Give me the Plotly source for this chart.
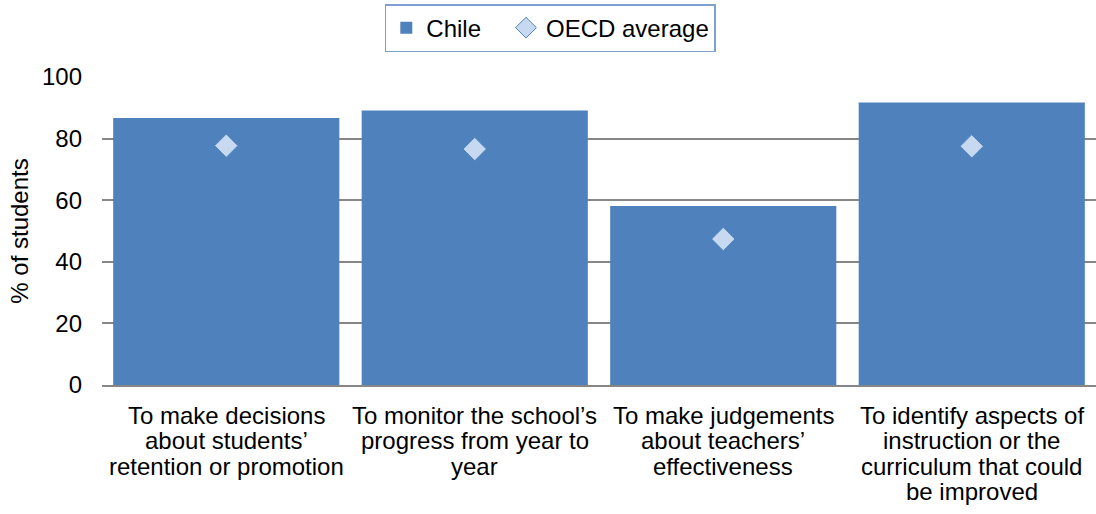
import plotly.graph_objects as go

categories = [
    "To make decisions about students’ retention or promotion",
    "To monitor the school’s progress from year to year",
    "To make judgements about teachers’ effectiveness",
    "To identify aspects of instruction or the curriculum that could be improved",
]
category_lines = [
    ["To make decisions", "about students’", "retention or promotion"],
    ["To monitor the school’s", "progress from year to", "year"],
    ["To make judgements", "about teachers’", "effectiveness"],
    ["To identify aspects of", "instruction or the", "curriculum that could", "be improved"],
]
chile = [86.7, 89.1, 58.1, 91.7]
oecd = [77.7, 76.6, 47.4, 77.5]

FONT = "Liberation Sans, Arial, sans-serif"
FS = 24

fig = go.Figure()
fig.add_trace(go.Bar(
    x=categories, y=chile, name="Chile\u00a0\u00a0\u00a0",
    marker=dict(color="#4F81BD", line=dict(width=0)),
))
fig.add_trace(go.Scatter(
    x=categories, y=oecd, name="OECD average", mode="markers",
    marker=dict(symbol="diamond", size=18, color="#C6D9F1",
                line=dict(width=1, color="#4F81BD")),
))

annotations = []
for cat, lines in zip(categories, category_lines):
    for i, ln in enumerate(lines):
        annotations.append(dict(
            x=cat, xref="x", y=0, yref="y", text=ln, showarrow=False,
            xanchor="center", yanchor="middle", yshift=-30 - 25.6 * i,
            font=dict(family=FONT, size=FS, color="black"),
        ))

fig.update_layout(
    width=1096, height=514,
    margin=dict(l=102, r=0, t=77, b=129),
    paper_bgcolor="white", plot_bgcolor="white",
    font=dict(family=FONT, size=FS, color="black"),
    bargap=0.09,
    showlegend=True,
    legend=dict(
        orientation="h", x=0.451, xanchor="center", y=1.081, yanchor="bottom",
        font=dict(family=FONT, size=FS, color="black"),
        bordercolor="#7F9FD0", borderwidth=1.5,
        bgcolor="white",
        itemwidth=30,
        traceorder="normal",
    ),
    xaxis=dict(
        showgrid=False, showline=True, linecolor="#868686", linewidth=1.5,
        ticks="", showticklabels=False,
    ),
    yaxis=dict(
        range=[0, 100], tickvals=[0, 20, 40, 60, 80, 100],
        showgrid=True, gridcolor="#868686", gridwidth=1.5,
        zeroline=False, showline=False,
        ticks="", ticklabelstandoff=19,
        tickfont=dict(family=FONT, size=FS, color="black"),
        title=dict(text="% of students", font=dict(family=FONT, size=FS, color="black"), standoff=6),
    ),
    annotations=annotations,
)

fig.write_html("out.html")
